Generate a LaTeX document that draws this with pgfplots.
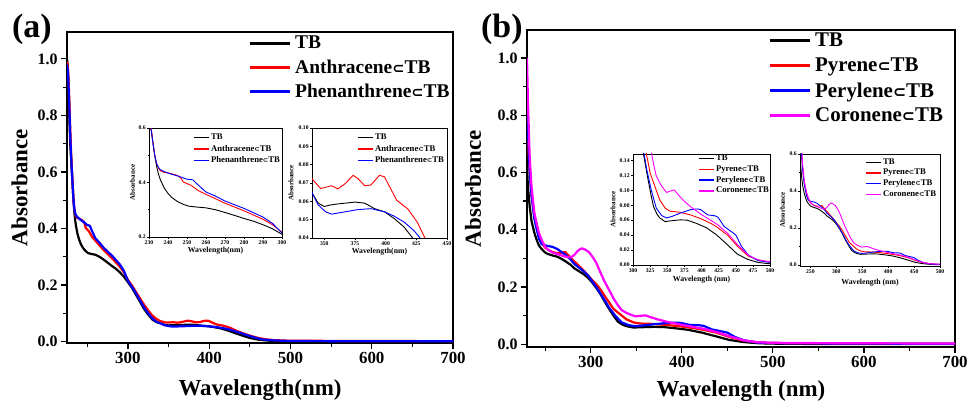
\documentclass[border=0pt]{standalone}
\usepackage{pgfplots}
\pgfplotsset{compat=1.18}
\usepackage{pgfplotstable}
\usepackage{graphicx}
\usepackage{fontspec}
\setmainfont{Liberation Serif}
\newfontfamily\symf{DejaVu Sans}
\newcommand{\sub}{{\symf\bfseries\scalebox{0.75}{⊂}}}
\definecolor{cR}{RGB}{255,0,0}
\definecolor{cB}{RGB}{0,0,255}
\definecolor{cM}{RGB}{255,0,255}

% ---------- panel (a) data ----------
\pgfplotstableread{
x y
225 1.00
226 0.97
227 0.90
228 0.78
229 0.70
230 0.65
231 0.60
232 0.55
233 0.50
234 0.46
235 0.43
236 0.41
238 0.38
240 0.36
242 0.345
245 0.33
248 0.32
251 0.313
255 0.31
260 0.307
265 0.300
270 0.290
276 0.277
280 0.268
285 0.258
290 0.245
295 0.230
300 0.210
305 0.190
310 0.165
315 0.140
320 0.115
325 0.095
330 0.078
335 0.069
340 0.0647
345 0.059
350 0.0572
355 0.058
360 0.0585
367 0.059
375 0.0596
383 0.059
391 0.056
399 0.0543
407 0.0506
415 0.046
422 0.040
430 0.032
440 0.022
450 0.013
460 0.007
470 0.004
480 0.002
500 0.001
550 0.0005
600 0.0
700 0.0
}\aTB
\pgfplotstableread{
x y
225 0.99
226 0.97
227 0.92
228 0.84
229 0.75
230 0.67
231 0.61
232 0.55
233 0.50
234 0.47
235 0.452
236 0.443
238 0.437
240 0.435
242 0.432
245 0.426
247 0.415
248 0.402
252 0.39
256 0.37
262 0.35
270 0.324
280 0.296
290 0.265
295 0.245
300 0.218
305 0.198
310 0.175
315 0.152
320 0.130
325 0.110
330 0.092
335 0.080
340 0.0723
347 0.067
353 0.068
356 0.0685
361 0.0668
367 0.0696
373.5 0.0742
377.5 0.0724
383 0.0685
388 0.0689
395 0.0742
399 0.0734
404 0.067
409 0.0606
418 0.0559
426 0.0484
432 0.040
440 0.031
450 0.021
460 0.013
470 0.008
480 0.005
500 0.003
600 0.002
700 0.0015
}\aAn
\pgfplotstableread{
x y
225 0.98
226 0.96
227 0.90
228 0.82
229 0.73
230 0.66
231 0.60
232 0.55
233 0.50
234 0.47
235 0.455
236 0.447
238 0.440
242 0.430
246 0.422
250 0.412
253 0.410
256 0.390
260 0.365
265 0.350
270 0.332
280 0.305
290 0.273
295 0.250
300 0.215
305 0.193
310 0.170
315 0.145
320 0.120
325 0.100
330 0.082
335 0.070
340 0.0647
345 0.0581
351 0.0543
356 0.053
367 0.0543
377.5 0.0555
388 0.056
399 0.0543
407 0.0519
415 0.0487
423 0.0441
428 0.040
435 0.034
445 0.024
455 0.015
465 0.008
475 0.005
490 0.003
500 0.002
600 0.001
700 0.001
}\aPh

% ---------- panel (b) data ----------
\pgfplotstableread{
x y
230 0.62
231 0.55
233 0.48
235 0.43
238 0.39
240 0.37
243 0.345
246 0.333
250 0.320
253 0.315
258 0.310
263 0.306
268 0.298
273 0.288
278 0.277
282 0.265
287 0.255
292 0.245
297 0.232
301 0.218
306 0.197
311 0.173
316 0.145
321 0.119
326 0.095
330 0.078
335 0.068
339 0.063
347 0.058
354 0.059
369 0.0604
379 0.060
393 0.0555
407 0.050
422 0.0403
438 0.027
452 0.0148
467 0.0076
482 0.0036
495 0.002
520 0.001
600 0.0
700 0.0
}\bTB
\pgfplotstableread{
x y
230 0.85
231 0.72
233 0.60
235 0.52
238 0.45
240 0.42
243 0.38
246 0.355
250 0.337
253 0.330
258 0.322
263 0.318
268 0.320
272 0.322
275 0.312
280 0.295
285 0.280
292 0.258
297 0.240
301 0.226
306 0.210
311 0.190
316 0.165
321 0.142
325 0.123
332 0.105
339 0.087
347 0.076
354 0.072
369 0.0705
384 0.067
399 0.062
414 0.0555
423 0.0505
438 0.040
453 0.0246
468 0.012
482 0.007
495 0.0045
520 0.003
600 0.002
700 0.001
}\bPy
\pgfplotstableread{
x y
230 0.90
231 0.75
233 0.60
235 0.52
238 0.44
240 0.41
243 0.37
246 0.350
250 0.345
253 0.343
258 0.340
263 0.333
268 0.322
273 0.310
278 0.295
282 0.280
287 0.268
292 0.255
297 0.240
301 0.222
306 0.200
311 0.175
316 0.150
320 0.128
327 0.099
334 0.076
342 0.066
349 0.063
357 0.065
369 0.0695
384 0.074
394 0.075
399 0.074
409 0.067
419 0.066
424 0.064
433 0.0515
443 0.045
450 0.0403
458 0.0255
468 0.0134
482 0.006
495 0.004
520 0.003
600 0.002
700 0.001
}\bPe
\pgfplotstableread{
x y
230 1.00
231 0.85
233 0.65
235 0.55
238 0.46
240 0.43
243 0.39
246 0.365
250 0.340
253 0.330
258 0.320
263 0.315
268 0.310
273 0.305
278 0.303
282 0.312
286 0.327
290 0.335
294 0.330
298 0.322
302 0.305
306 0.285
310 0.255
315 0.220
320 0.190
325 0.160
330 0.135
334 0.119
340 0.108
344 0.103
349 0.097
355 0.099
360 0.1006
366 0.094
374 0.086
384 0.078
399 0.068
414 0.0595
424 0.0537
438 0.0425
453 0.0268
468 0.0134
482 0.007
495 0.005
520 0.004
600 0.003
700 0.002
}\bCo

\pgfplotsset{
  mainax/.style={
    scale only axis, anchor=south west,
    axis background/.style={fill=white},
    axis line style={line width=1.5bp},
    tick style={line width=1.2bp, black},
    tick align=outside, tick pos=left,
    major tick length=6bp, minor tick length=4bp,
    xtick={300,400,500,600,700},
    minor xtick={250,350,450,550,650},
    ytick={0,0.2,0.4,0.6,0.8,1.0},
    minor ytick={0.1,0.3,0.5,0.7,0.9},
    /pgf/number format/assume math mode=true,
    xticklabel style={font=\fontsize{17}{17}\selectfont\bfseries},
    yticklabel style={font=\fontsize{16}{16}\selectfont\bfseries,
      /pgf/number format/.cd, fixed, fixed zerofill, precision=1},
    label style={font=\fontsize{23}{23}\selectfont\bfseries},
    legend cell align=left,
    legend image code/.code={\draw[##1,line width=3bp] (0bp,0bp) -- (40bp,0bp);},
  },
  mainleg/.style={legend style={draw=none, fill=none, inner sep=0pt,
      row sep=#1, column sep=4bp,
      nodes={inner sep=0pt, anchor=west}}},
  insetax/.style={
    scale only axis, anchor=south west,
    axis background/.style={fill=white},
    axis line style={line width=0.6bp},
    tick style={line width=0.5bp, black},
    tick align=outside, tick pos=left,
    major tick length=2bp, minor tick length=1.3bp,
    /pgf/number format/assume math mode=true,
    ticklabel style={font=\fontsize{5.7}{5.7}\selectfont\bfseries, inner sep=1.2bp},
    xlabel style={font=\fontsize{7.8}{7.8}\selectfont\bfseries},
    ylabel style={font=\fontsize{7}{7}\selectfont\bfseries},
    legend cell align=left,
    legend image code/.code={\draw[##1,line width=1.4bp] (0bp,0bp) -- (15bp,0bp);},
  },
  insetleg/.style={legend style={draw=none, fill=none, inner sep=0pt,
      row sep=#1, column sep=1.5bp,
      nodes={inner sep=0pt, anchor=west, font=\fontsize{8.7}{8.7}\selectfont\bfseries}}},
}

\begin{document}
\begin{tikzpicture}
\path[use as bounding box] (0bp,0bp) rectangle (969bp,401bp);

% ===== panel (a) main =====
\begin{axis}[mainax, at={(67bp,58bp)}, width=386bp, height=311bp,
  xmin=225, xmax=700, ymin=-0.005, ymax=1.095,
  xlabel={Wavelength(nm)}, ylabel={Absorbance},
  xlabel style={at={(axis description cs:0.5,0)}, anchor=center, yshift=-47bp},
  ylabel style={at={(axis description cs:-0.123,0.5)}, anchor=center},
  mainleg=9.5bp,
  legend style={at={(0.469,1)}, anchor=north west, yshift=-4bp,
    font=\fontsize{19.5}{19.5}\selectfont\bfseries},
  ]
\addplot[black, line width=2.2bp, line join=round] table {\aTB};
\addplot[cR, line width=2.2bp, line join=round] table {\aAn};
\addplot[cB, line width=2.2bp, line join=round] table {\aPh};
\legend{TB, Anthracene\sub TB, Phenanthrene\sub TB}
\end{axis}

% ===== inset a1 =====
\begin{axis}[insetax, at={(149bp,164bp)}, width=133bp, height=109bp,
  xmin=230, xmax=300, ymin=0.2, ymax=0.6,
  xtick={230,240,250,260,270,280,290,300},
  ytick={0.2,0.4,0.6}, minor ytick={0.3,0.5},
  yticklabel style={/pgf/number format/.cd, fixed, fixed zerofill, precision=1},
  xlabel={Wavelength(nm)}, ylabel={Absorbance},
  xlabel style={at={(axis description cs:0.5,0)}, anchor=center, yshift=-14bp},
  ylabel style={at={(axis description cs:-0.124,0.5)}, anchor=center},
  insetleg=3.8bp,
  legend style={at={(0.331,1)}, anchor=north west, yshift=-6bp},
  ]
\addplot[black, line width=0.9bp] table {\aTB};
\addplot[cR, line width=0.9bp] table {\aAn};
\addplot[cB, line width=0.9bp] table {\aPh};
\legend{TB, Anthracene\sub TB, Phenanthrene\sub TB}
\end{axis}

% ===== inset a2 =====
\begin{axis}[insetax, at={(312bp,163bp)}, width=135bp, height=110bp,
  xmin=340, xmax=450, ymin=0.04, ymax=0.10,
  xtick={350,375,400,425,450},
  ytick={0.04,0.05,0.06,0.07,0.08,0.09,0.10},
  yticklabel style={/pgf/number format/.cd, fixed, fixed zerofill, precision=2},
  xlabel={Wavelength(nm)}, ylabel={Absorbance},
  xlabel style={at={(axis description cs:0.5,0)}, anchor=center, yshift=-14bp},
  ylabel style={at={(axis description cs:-0.156,0.5)}, anchor=center},
  insetleg=3.8bp,
  legend style={at={(0.333,1)}, anchor=north west, yshift=-6bp},
  ]
\addplot[black, line width=0.9bp] table {\aTB};
\addplot[cR, line width=0.9bp] table {\aAn};
\addplot[cB, line width=0.9bp] table {\aPh};
\legend{TB, Anthracene\sub TB, Phenanthrene\sub TB}
\end{axis}

% ===== panel (b) main =====
\begin{axis}[mainax, at={(527bp,54bp)}, width=428bp, height=317bp,
  xmin=230, xmax=700, ymin=-0.01, ymax=1.098,
  xlabel={Wavelength (nm)}, ylabel={Absorbance},
  xlabel style={at={(axis description cs:0.5,0)}, anchor=center, yshift=-44bp},
  ylabel style={at={(axis description cs:-0.126,0.5)}, anchor=center},
  mainleg=9.5bp,
  legend style={at={(0.563,1)}, anchor=north west, yshift=-3bp,
    font=\fontsize{21}{21}\selectfont\bfseries},
  ]
\addplot[black, line width=2.2bp, line join=round] table {\bTB};
\addplot[cR, line width=2.2bp, line join=round] table {\bPy};
\addplot[cB, line width=2.2bp, line join=round] table {\bPe};
\addplot[cM, line width=2.2bp, line join=round] table {\bCo};
\legend{TB, Pyrene\sub TB, Perylene\sub TB, Coronene\sub TB}
\end{axis}

% ===== inset b1 =====
\begin{axis}[insetax, at={(633bp,136bp)}, width=137bp, height=111bp,
  xmin=300, xmax=500, ymin=0, ymax=0.1485,
  xtick={300,325,350,375,400,425,450,475,500},
  ytick={0,0.02,0.04,0.06,0.08,0.10,0.12,0.14},
  yticklabel style={/pgf/number format/.cd, fixed, fixed zerofill, precision=2},
  xlabel={Wavelength (nm)}, ylabel={Absorbance},
  xlabel style={at={(axis description cs:0.5,0)}, anchor=center, yshift=-15bp},
  ylabel style={at={(axis description cs:-0.146,0.5)}, anchor=center},
  insetleg=3.4bp,
  legend style={at={(0.474,1)}, anchor=north west, yshift=-1bp},
  ]
\addplot[black, line width=0.9bp] table {\bTB};
\addplot[cR, line width=0.9bp] table {\bPy};
\addplot[cB, line width=0.9bp] table {\bPe};
\addplot[cM, line width=0.9bp] table {\bCo};
\legend{TB, Pyrene\sub TB, Perylene\sub TB, Coronene\sub TB}
\end{axis}

% ===== inset b2 =====
\begin{axis}[insetax, at={(800bp,135bp)}, width=140bp, height=112bp,
  xmin=230, xmax=500, ymin=-0.005, ymax=0.6,
  xtick={250,300,350,400,450,500},
  ytick={0,0.2,0.4,0.6}, minor ytick={0.1,0.3,0.5},
  yticklabel style={/pgf/number format/.cd, fixed, fixed zerofill, precision=1},
  xlabel={Wavelength (nm)}, ylabel={Absorbance},
  xlabel style={at={(axis description cs:0.5,0)}, anchor=center, yshift=-17bp},
  ylabel style={at={(axis description cs:-0.125,0.5)}, anchor=center},
  insetleg=3.4bp,
  legend style={at={(0.464,1)}, anchor=north west, yshift=-4.5bp},
  ]
\addplot[black, line width=0.9bp] table {\bTB};
\addplot[cR, line width=0.9bp] table {\bPy};
\addplot[cB, line width=0.9bp] table {\bPe};
\addplot[cM, line width=0.9bp] table {\bCo};
\legend{TB, Pyrene\sub TB, Perylene\sub TB, Coronene\sub TB}
\end{axis}

\node[anchor=west, inner sep=0pt, font=\fontsize{34}{34}\selectfont\bfseries] at (12bp,372bp) {(a)};
\node[anchor=west, inner sep=0pt, font=\fontsize{34}{34}\selectfont\bfseries] at (481bp,372bp) {(b)};
\end{tikzpicture}
\end{document}
